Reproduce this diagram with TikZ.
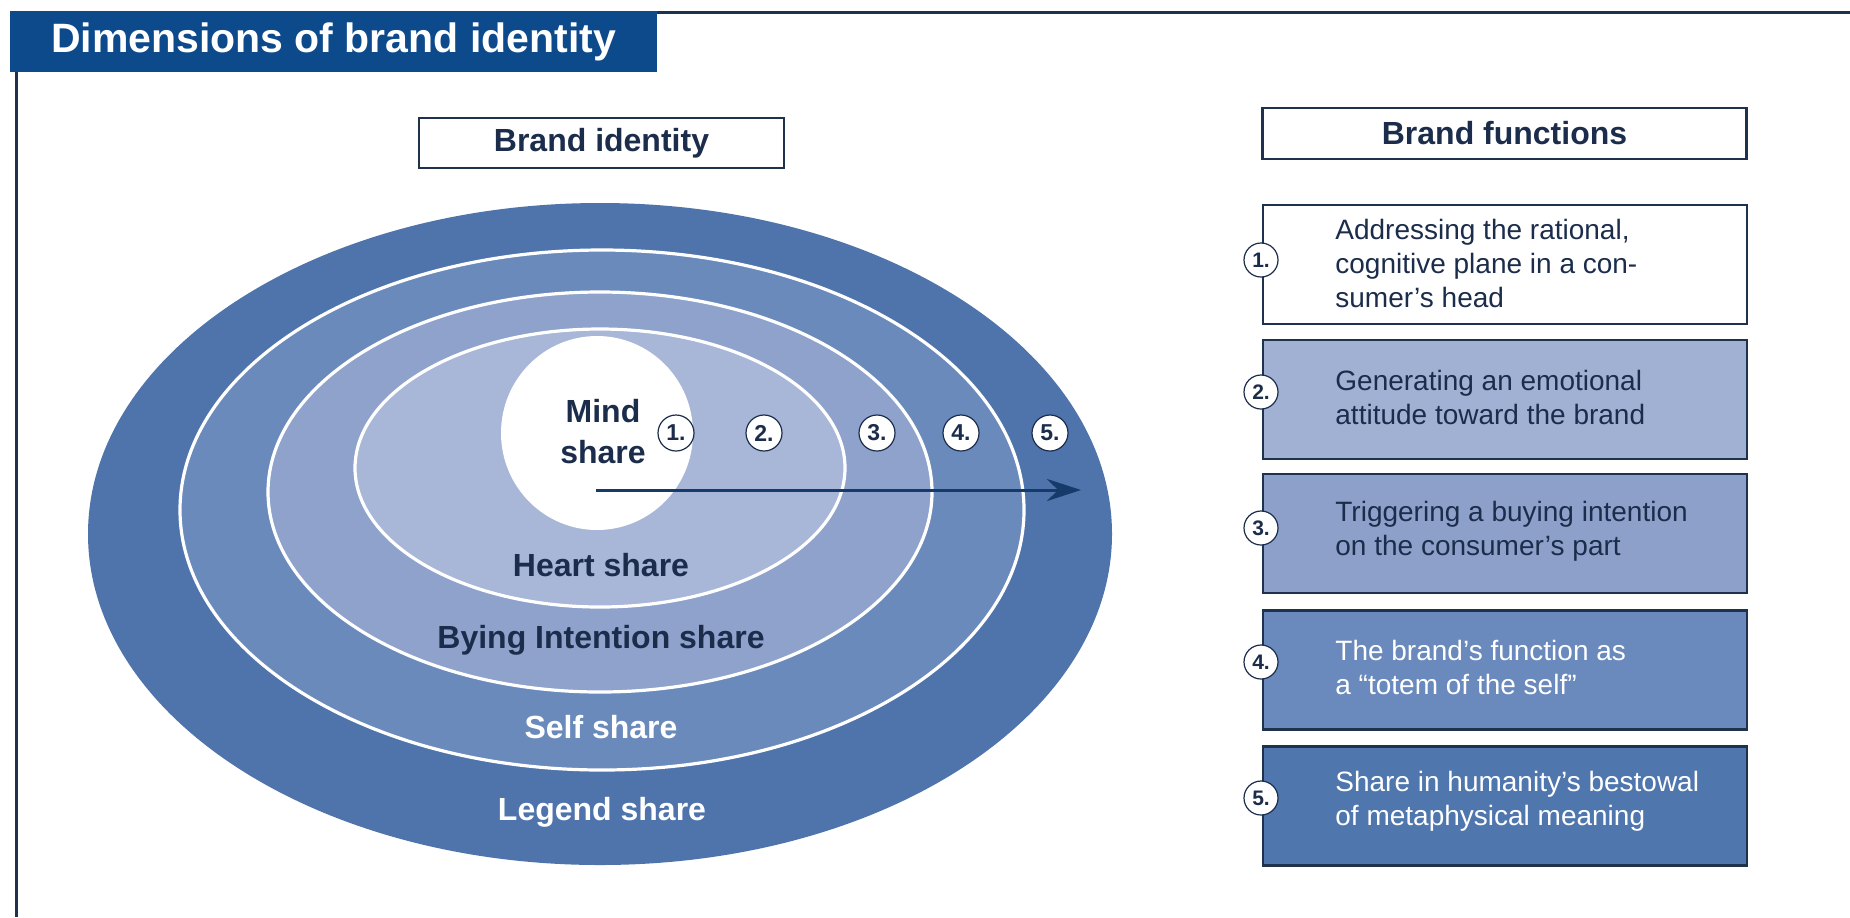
\documentclass[tikz,border=0pt]{standalone}
\usepackage{fontspec}
\setmainfont{Liberation Sans}
\usetikzlibrary{arrows.meta}
\definecolor{legendc}{RGB}{79,116,172}
\definecolor{selfc}{RGB}{106,138,188}
\definecolor{buyc}{RGB}{142,162,204}
\definecolor{heartc}{RGB}{168,182,216}
\definecolor{boxtwo}{RGB}{160,177,211}
\definecolor{boxthree}{RGB}{141,160,202}
\definecolor{boxfour}{RGB}{106,137,188}
\definecolor{boxfive}{RGB}{80,118,174}
\definecolor{barblue}{RGB}{13,74,140}
\definecolor{boxline}{RGB}{30,50,78}
\definecolor{darktext}{RGB}{27,45,75}
\definecolor{arrowc}{RGB}{22,58,105}
\begin{document}
\begin{tikzpicture}[x=0.5pt,y=-0.5pt,
  ring/.style={draw=white, line width=1.6pt},
  frameline/.style={draw=boxline, line width=1.5pt},
  fbox/.style={draw=boxline, line width=1.3pt, minimum width=242pt, minimum height=59.5pt, inner sep=0pt},
  ftext/.style={anchor=west, align=left, inner sep=0pt, font=\fontsize{14}{17}\selectfont},
  numc/.style={circle, draw=darktext, line width=0.6pt, fill=white, minimum size=17pt, inner sep=0pt, text=darktext, font=\bfseries\fontsize{10.5}{10.5}\selectfont},
  numbig/.style={numc, minimum size=18pt, font=\bfseries\fontsize{11.5}{12}\selectfont},
  lbl/.style={font=\bfseries\fontsize{16}{20.5}\selectfont, align=center, inner sep=0pt},
  hdr/.style={draw=boxline, line width=1.1pt, fill=white, inner sep=0pt, text=darktext, font=\bfseries\fontsize{16}{19}\selectfont}
]
\useasboundingbox (0,0) rectangle (1850,917);
\fill[white] (0,0) rectangle (1850,917);

% frame and title
\draw[frameline] (657,12) -- (1850,12);
\draw[frameline] (16,72) -- (16,917);
\node[fill=barblue, minimum width=323.5pt, minimum height=30.5pt, inner sep=0pt,
      text=white, font=\bfseries\fontsize{20.5}{24}\selectfont] (title) at (333.5,41.5) {Dimensions of brand identity};

% headers
\node[hdr, minimum width=182.5pt, minimum height=25pt] (hid) at (601.5,143) {Brand identity};
\node[hdr, minimum width=242pt, minimum height=25.5pt] (hfn) at (1504.5,133.5) {Brand functions};

% ellipses
\fill[legendc] (600,534) ellipse [x radius=256pt, y radius=165.5pt];
\filldraw[fill=selfc, ring] (602,510) ellipse [x radius=211pt, y radius=130pt];
\filldraw[fill=buyc, ring] (600,492) ellipse [x radius=166pt, y radius=100pt];
\filldraw[fill=heartc, ring] (600,468) ellipse [x radius=122.5pt, y radius=69.5pt];
\fill[white] (597,433) ellipse [x radius=48pt, y radius=48.5pt];

% labels
\node[lbl, text=darktext] (mind) at (603,432) {Mind\\share};
\node[lbl, text=darktext] (heart) at (601,565) {Heart share};
\node[lbl, text=darktext] (buying) at (601,640) {Bying Intention share};
\node[lbl, text=white] (selfl) at (601,727) {Self share};
\node[lbl, text=white] (legend) at (602,812) {Legend share};

% arrow
\coordinate (astart) at (596,490);
\coordinate (aend) at (1081,490);
\draw[arrowc, line width=1.5pt, -{Stealth[length=17pt,width=11pt]}] (astart) -- (aend);

% numbers on ellipse
\node[numbig] (e1) at (676,433) {1.};
\node[numbig] (e2) at (764,433) {2.};
\node[numbig] (e3) at (877,433) {3.};
\node[numbig] (e4) at (961,433) {4.};
\node[numbig] (e5) at (1050,433) {5.};

% function boxes
\node[fbox, fill=white] (b1) at (1505,264.5) {};
\node[fbox, fill=boxtwo] (b2) at (1505,399.5) {};
\node[fbox, fill=boxthree] (b3) at (1505,533.5) {};
\node[fbox, fill=boxfour] (b4) at (1505,670) {};
\node[fbox, fill=boxfive] (b5) at (1505,806) {};

\node[ftext, text=darktext] (t1) at (1335,263) {Addressing the rational,\\cognitive plane in a con-\\sumer’s head};
\node[ftext, text=darktext] (t2) at (1335,397) {Generating an emotional\\attitude toward the brand};
\node[ftext, text=darktext] (t3) at (1335,531) {Triggering a buying intention\\on the consumer’s part};
\node[ftext, text=white] (t4) at (1335,667) {The brand’s function as\\a “totem of the self”};
\node[ftext, text=white] (t5) at (1335,801) {Share in humanity’s bestowal\\of metaphysical meaning};

\node[numc] (c1) at (1261,260) {1.};
\node[numc] (c2) at (1261,392) {2.};
\node[numc] (c3) at (1261,528) {3.};
\node[numc] (c4) at (1261,662) {4.};
\node[numc] (c5) at (1261,798) {5.};
\end{tikzpicture}
\end{document}
